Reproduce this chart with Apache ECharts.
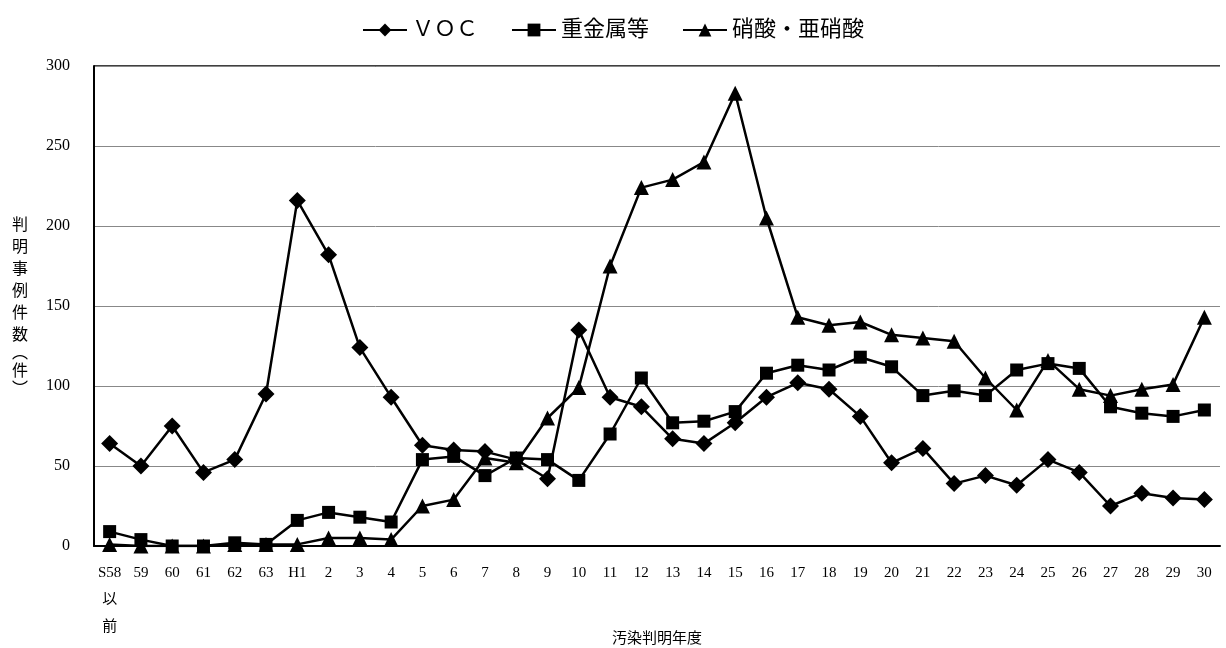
<!DOCTYPE html>
<html><head><meta charset="utf-8">
<script src="https://cdn.jsdelivr.net/npm/echarts@6/dist/echarts.min.js"></script>
<style>html,body{margin:0;padding:0;background:#fff}#c{width:1226px;height:648px}</style>
</head><body><div id="c"></div>
<script>
const categories = ['S58\n以\n前','59','60','61','62','63','H1','2','3','4','5','6','7','8','9','10','11','12','13','14','15','16','17','18','19','20','21','22','23','24','25','26','27','28','29','30'];
const vocValues = [64,50,75,46,54,95,216,182,124,93,63,60,59,54,42,135,93,87,67,64,77,93,102,98,81,52,61,39,44,38,54,46,25,33,30,29];
const metalValues = [9,4,0,0,2,1,16,21,18,15,54,56,44,55,54,41,70,105,77,78,84,108,113,110,118,112,94,97,94,110,114,111,87,83,81,85];
const nitrateValues = [1,0,0,0,1,1,1,5,5,4,25,29,55,52,80,99,175,224,229,240,283,205,143,138,140,132,130,128,105,85,116,98,94,98,101,143];
const seriesNames = ['ＶＯＣ','重金属等','硝酸・亜硝酸'];
const yTicks = {min:0, max:300, interval:50};
const yName = ['判','明','事','例','件','数','︵','件','︶'];
const xName = '汚染判明年度';

const FONT = "'Liberation Serif','Noto Sans CJK JP',serif";
const chart = echarts.init(document.getElementById('c'));
const mk = (name, data, symbol, size) => ({
  name, type:'line', data, symbol, symbolSize:size,
  lineStyle:{color:'#000', width:2.5},
  itemStyle:{color:'#000'},
  emphasis:{disabled:true}
});
const yNameRich = yName.map(c => (c === '︵' || c === '︶') ? '{p|' + c + '}' : '{c|' + c + '}').join('\n');
chart.setOption({
  animation:false,
  textStyle:{fontFamily:FONT},
  legend:{
    top:14, left:'center', itemWidth:44, itemHeight:16, itemGap:33,
    textStyle:{fontFamily:FONT, fontSize:22, color:'#000'},
    data:seriesNames
  },
  grid:{left:94, right:6, top:66, bottom:102, outerBoundsMode:'none', containLabel:false},
  xAxis:{
    type:'category', data:categories, boundaryGap:true,
    name:xName, nameLocation:'middle', nameGap:86, nameMoveOverlap:false,
    nameTextStyle:{fontFamily:FONT, fontSize:15, color:'#000'},
    axisLine:{lineStyle:{color:'#000', width:2}},
    axisTick:{inside:true, length:5, lineStyle:{color:'#000'}},
    axisLabel:{color:'#000', fontSize:15, fontFamily:FONT, margin:14, lineHeight:27, interval:0, verticalAlign:'top'}
  },
  yAxis:{
    type:'value', min:yTicks.min, max:yTicks.max, interval:yTicks.interval,
    name:yNameRich, nameLocation:'middle', nameRotate:0, nameGap:66, nameMoveOverlap:false,
    nameTextStyle:{fontFamily:FONT, fontSize:16, color:'#000',
      rich:{c:{fontFamily:FONT, fontSize:16, lineHeight:22, color:'#000'}, p:{fontFamily:FONT, fontSize:16, lineHeight:14, color:'#000'}}},
    axisLine:{show:true, lineStyle:{color:'#000', width:2}},
    axisTick:{show:false},
    axisLabel:{color:'#000', fontSize:16, fontFamily:FONT, margin:24},
    splitLine:{lineStyle:{color:'#888', width:1}}
  },
  graphic:[{type:'line', shape:{x1:94,y1:66,x2:1220,y2:66}, style:{stroke:'#000', lineWidth:1.5}}],
  series:[
    mk(seriesNames[0], vocValues, 'diamond', 17),
    mk(seriesNames[1], metalValues, 'rect', 13),
    mk(seriesNames[2], nitrateValues, 'triangle', 15)
  ]
});
</script></body></html>
